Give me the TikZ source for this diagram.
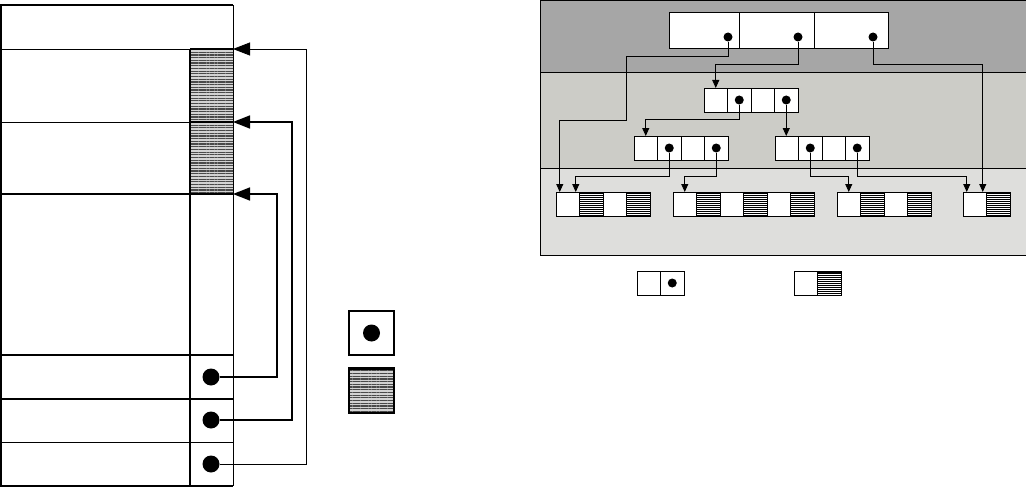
\documentclass[tikz,border=0pt]{standalone}
\usepackage{xcolor}
\definecolor{cBandTop}{HTML}{A6A6A6}
\definecolor{cBandMid}{HTML}{CCCCC7}
\definecolor{cBandLow}{HTML}{DEDEDC}
\definecolor{cHatch}{HTML}{4A4A4A}
\usepackage{tikz}
\usetikzlibrary{positioning,arrows.meta,patterns.meta}
\tikzset{
  line-thick/.style={line width=1.6pt},
  line-thin/.style={line width=0.8pt},
  node-cell/.style={draw,line-thin,fill=white,anchor=north west,
    minimum width=23.5pt,minimum height=24pt,inner sep=0pt,outer sep=0pt},
  node-cell-hatch/.style={node-cell,preaction={fill=white},
    pattern={Lines[angle=0,distance=2pt,line width=0.9pt]},pattern color=black,
    path picture={\draw[line width=3pt] (path picture bounding box.north west)
      -- (path picture bounding box.north east);}},
  node-block-hatch/.style={draw=none,anchor=north west,inner sep=0pt,outer sep=0pt,
    preaction={fill=gray!35},
    pattern={Lines[angle=0,distance=2.7pt,line width=1.2pt]},pattern color=cHatch},
  node-ptr/.style={circle,fill=black,inner sep=0pt,minimum size=9pt},
  node-ptr-big/.style={circle,fill=black,inner sep=0pt,minimum size=17pt},
  arrow-big/.style={-{Triangle[length=17pt,width=13pt]}},
  arrow-small/.style={-{Triangle[length=8pt,width=7pt]},line-thin},
}

\begin{document}
\begin{tikzpicture}[x=1pt,y=-1pt]
  \useasboundingbox (0,0) rectangle (1026,487);
  % left: the block column
  \node[node-block-hatch,minimum width=43pt,minimum height=73pt] (hA) at (190,49) {};
  \node[node-block-hatch,minimum width=43pt,minimum height=72pt] (hB) at (190,122) {};
  \draw[line-thick] (233,5) -- (1,5) -- (1,486) -- (233,486);
  \draw[line-thin] (233,5) -- (233,486);
  \draw[line-thin] (1,49) -- (hA.north west) (1,122) -- (hB.north west);
  \draw[line-thick] (hA.north west) -- (hA.north east) (hB.north west) -- (hB.north east);
  \draw[line-thick] (1,194) -- (233,194) (190,49) -- (190,486);
  \draw[line-thick] (1,355) -- (233,355) (1,399) -- (233,399);
  \draw[line-thin] (1,442) -- (233,442);
  \node[node-ptr-big] (l1) at (211,377) {};
  \node[node-ptr-big] (l2) at (211,420) {};
  \node[node-ptr-big] (l3) at (211,464) {};
  \draw[arrow-big,line-thick] (l1) -- ++(66,0) |- (hB.south east);
  \draw[arrow-big,line-thick] (l2) -- ++(81,0) |- (hA.south east);
  \draw[arrow-big,line-thin] (l3) -- ++(95,0) |- (hA.north east);
  % left legend
  \node[node-cell,line width=1.3pt,minimum width=45pt,minimum height=44pt] (kA) at (349,311) {};
  \node[node-ptr-big] (kAp) at (kA.center) {};
  \node[node-block-hatch,draw=black,line width=1.3pt,minimum width=45pt,minimum height=45pt,
    path picture={\draw[line width=4pt] (path picture bounding box.north west)
      -- (path picture bounding box.north east);}] (kB) at (349,368) {};

  % right: tree over three bands
  \fill[cBandTop] (540,0) rectangle (1026,72);
  \fill[cBandMid] (540,72) rectangle (1026,168);
  \fill[cBandLow] (540,168) rectangle (1026,255);
  \draw[line-thin] (1026,0.5) -- (540.5,0.5) -- (540.5,255) -- (1026,255);
  \draw[line-thin] (540,72) -- (1026,72) (540,168) -- (1026,168);
  \node[node-cell,minimum width=70pt,minimum height=36pt] (tn1) at (669,12) {};
  \node[node-cell,minimum width=75pt,minimum height=36pt] (tn2) at (739,12) {};
  \node[node-cell,minimum width=74pt,minimum height=36pt] (tn3) at (814,12) {};
  \node[node-ptr] (t1) at (728,37) {};
  \node[node-ptr] (t2) at (798,37) {};
  \node[node-ptr] (t3) at (873,37) {};
  \foreach \n/\x/\y/\k in {ma/704/88/2, la/634/136/2, lb/775/136/2, keya/637/271/1}
    \foreach \j in {1,...,\k} {
      \node[node-cell] (\n-w\j) at (\x+47*\j-47,\y) {};
      \node[node-cell] (\n-c\j) at (\x+47*\j-23.5,\y) {};
      \node[node-ptr] (\n-p\j) at (\n-c\j.center) {};
    }
  \foreach \n/\x/\y/\k in {lfa/556/192/2, lfb/673/192/3, lfc/837/192/2, lfd/963/192/1, keyb/794/271/1}
    \foreach \j in {1,...,\k} {
      \node[node-cell] (\n-\j) at (\x+47*\j-47,\y) {};
      \node[node-cell-hatch] (\n-h\j) at (\x+47*\j-23.5,\y) {};
    }
  \draw[arrow-small] (t1) -- ++(0,19) -| ++(-102,64) -| ([xshift=-8pt]lfa-1.north);
  \draw[arrow-small] (t2) -- ++(0,27) -| (ma-w1.north);
  \draw[arrow-small] (t3) -- ++(0,27) -| ([xshift=8pt]lfd-1.north);
  \draw[arrow-small] (ma-p1) -- ++(0,19) -| (la-w1.north);
  \draw[arrow-small] (ma-p2) -- (ma-p2 |- lb-w1.north);
  \draw[arrow-small] (la-p1) -- ++(0,28) -| ([xshift=8pt]lfa-1.north);
  \draw[arrow-small] (la-p2) -- ++(0,28) -| (lfb-1.north);
  \draw[arrow-small] (lb-p1) -- ++(0,28) -| (lfc-1.north);
  \draw[arrow-small] (lb-p2) -- ++(0,28) -| ([xshift=-8pt]lfd-1.north);
\end{tikzpicture}
\end{document}
